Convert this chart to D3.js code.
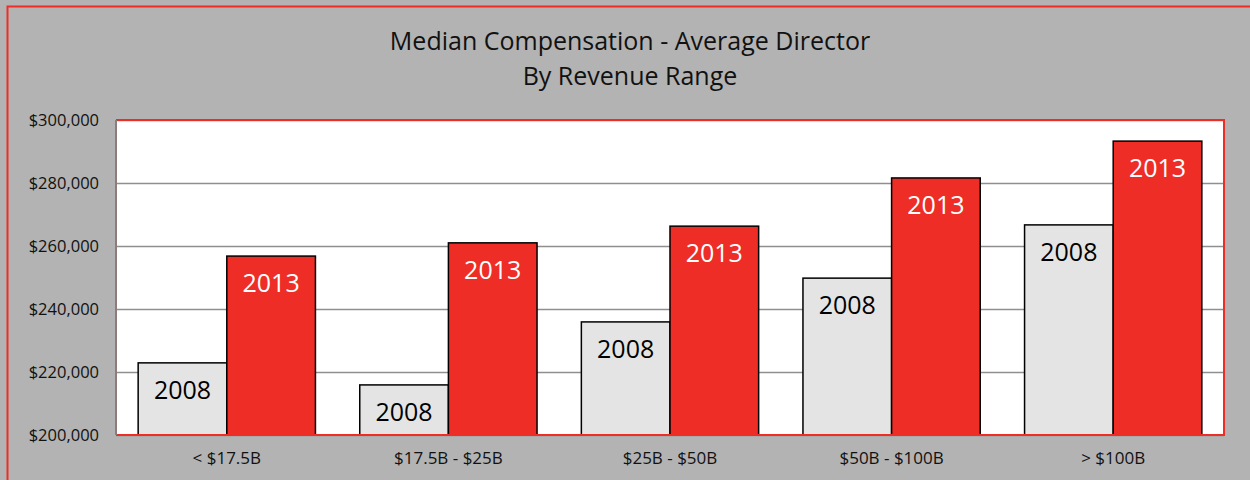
<!DOCTYPE html>
<html lang="en">
<head>
  <meta charset="UTF-8">
  <title>Median Compensation - Average Director</title>
  <script src="https://d3js.org/d3.v7.min.js"></script>
  <style>
    body { margin: 0; background: #b3b3b3; }
    svg { display: block; font-family: "Open Sans", "Noto Sans", sans-serif; }
  </style>
</head>
<body>
  <div id="chart"></div>
  <script>
    // Data
    var categories = ["< $17.5B", "$17.5B - $25B", "$25B - $50B", "$50B - $100B", "> $100B"];
    var seriesNames = ["2008", "2013"];
    var values2008 = [222900, 215900, 235900, 249800, 266700];
    var values2013 = [256800, 261000, 266300, 281600, 293300];
    var yTicks = [200000, 220000, 240000, 260000, 280000, 300000];
    var titleLines = ["Median Compensation - Average Director", "By Revenue Range"];

    var colors = {"2008": "#e4e4e4", "2013": "#ee2d27"};
    var labelColors = {"2008": "#000", "2013": "#fff"};

    var W = 1250, H = 480;
    var margin = {top: 120, right: 26, bottom: 45, left: 116},
        width = W - margin.left - margin.right,
        height = H - margin.top - margin.bottom;

    var rows = categories.map(function(c, i) {
      return {cat: c, "2008": values2008[i], "2013": values2013[i]};
    });

    var svg = d3.select("#chart").append("svg")
      .attr("width", W)
      .attr("height", H);

    // Outer frame
    svg.append("rect")
      .attr("x", 7.5).attr("y", 6.5)
      .attr("width", W + 20).attr("height", H + 20)
      .attr("fill", "#b3b3b3")
      .attr("stroke", "#ee2d27")
      .attr("stroke-width", 2);

    // Title, two separate lines
    svg.selectAll(".title")
      .data(titleLines)
      .enter().append("text")
        .attr("class", "title")
        .attr("x", 630)
        .attr("y", function(d, i) { return 50 + i * 35; })
        .attr("text-anchor", "middle")
        .style("font-size", "25px")
        .attr("fill", "#111")
        .text(function(d) { return d; });

    var g = svg.append("g")
      .attr("transform", "translate(" + margin.left + "," + margin.top + ")");

    var x0 = d3.scaleBand().domain(categories).range([0, width]).paddingInner(0.2).paddingOuter(0.1);
    var x1 = d3.scaleBand().domain(seriesNames).range([0, x0.bandwidth()]);
    var y = d3.scaleLinear().domain([200000, 300000]).range([height, 0]);

    // Plot area
    g.append("rect")
      .attr("width", width).attr("height", height)
      .attr("fill", "#fff");

    // Gridlines
    g.append("g")
      .call(d3.axisLeft(y).tickValues(yTicks).tickSize(-width).tickFormat(""))
      .call(function(s) {
        s.select(".domain").remove();
        s.selectAll("line").attr("stroke", "#8f8f8f").attr("stroke-width", 1.5);
      });

    // Bars
    var groups = g.selectAll(".grp")
      .data(rows)
      .enter().append("g")
        .attr("transform", function(d) { return "translate(" + x0(d.cat) + ",0)"; });

    var items = groups.selectAll(".bar")
      .data(function(d) { return seriesNames.map(function(s) { return {key: s, value: d[s]}; }); })
      .enter();

    items.append("rect")
      .attr("x", function(d) { return x1(d.key); })
      .attr("y", function(d) { return y(d.value); })
      .attr("width", x1.bandwidth())
      .attr("height", function(d) { return height - y(d.value); })
      .attr("fill", function(d) { return colors[d.key]; })
      .attr("stroke", "#000")
      .attr("stroke-width", 1.5);

    items.append("text")
      .attr("x", function(d) { return x1(d.key) + x1.bandwidth() / 2; })
      .attr("y", function(d) { return y(d.value) + 36; })
      .attr("text-anchor", "middle")
      .style("font-size", "25px")
      .attr("fill", function(d) { return labelColors[d.key]; })
      .text(function(d) { return d.key; });

    // Plot border: red top/right/bottom, gray left
    g.append("path")
      .attr("d", "M0,0H" + width + "V" + height + "H0")
      .attr("fill", "none")
      .attr("stroke", "#ee2d27")
      .attr("stroke-width", 2);
    g.append("line")
      .attr("x1", 0).attr("x2", 0).attr("y1", 0).attr("y2", height)
      .attr("stroke", "#8c7c7c").attr("stroke-width", 2);

    // Y axis labels
    g.append("g")
      .call(d3.axisLeft(y).tickValues(yTicks).tickSize(0).tickPadding(17)
        .tickFormat(function(d) { return "$" + d3.format(",")(d); }))
      .call(function(s) {
        s.select(".domain").remove();
        s.selectAll("text").style("font-size", "16.5px").attr("fill", "#111")
          .style("font-family", "'Open Sans', 'Noto Sans', sans-serif");
      });

    // X axis labels
    g.append("g")
      .attr("transform", "translate(0," + height + ")")
      .call(d3.axisBottom(x0).tickSize(0).tickPadding(17))
      .call(function(s) {
        s.select(".domain").remove();
        s.selectAll("text").style("font-size", "17px").attr("fill", "#111")
          .style("font-family", "'Open Sans', 'Noto Sans', sans-serif");
      });
  </script>
</body>
</html>
